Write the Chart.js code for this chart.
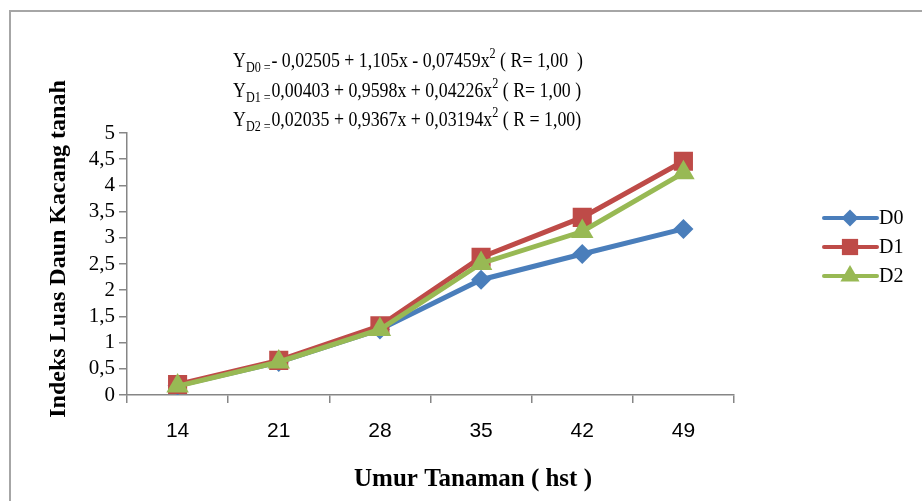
<!DOCTYPE html>
<html>
<head>
<meta charset="utf-8">
<script src="https://cdn.jsdelivr.net/npm/chart.js@4.4.1/dist/chart.umd.min.js"></script>
<style>
  body { margin: 0; background: #fff; }
  canvas { display: block; }
</style>
</head>
<body>
<canvas id="grafikILD" width="922" height="501"></canvas>
<script>
// Data indeks luas daun per umur tanaman
const umur = ["14", "21", "28", "35", "42", "49"];
const dataD0 = [0.18, 0.63, 1.25, 2.20, 2.69, 3.17];
const dataD1 = [0.20, 0.66, 1.32, 2.63, 3.39, 4.46];
const dataD2 = [0.17, 0.63, 1.25, 2.51, 3.12, 4.24];
const namaSeri = ["D0", "D1", "D2"];
const warnaSeri = ['#4A7EBB', '#BE4B48', '#98B954'];
const bentukTitik = ['rectRot', 'rect', 'triangle'];
const ukuranTitik = [10, 13.5, 13];

// Persamaan regresi (teks di atas grafik)
const persamaan = [
    [["Y", ""], ["D0 =", "sub"], ["- 0,02505 + 1,105x - 0,07459x", ""], ["2", "sup"], [" ( R= 1,00  )", ""]],
    [["Y", ""], ["D1 =", "sub"], ["0,00403 + 0,9598x + 0,04226x", ""], ["2", "sup"], [" ( R= 1,00 )", ""]],
    [["Y", ""], ["D2 =", "sub"], ["0,02035 + 0,9367x + 0,03194x", ""], ["2", "sup"], [" ( R = 1,00)", ""]]
];

const serif = '"Liberation Serif", "Times New Roman", serif';
const abu = '#868686';

function fontBagian(jenis) {
    return (jenis === "" ? "22px " : "15px ") + serif;
}

function lebarBagian(ctx, p) {
    ctx.font = fontBagian(p[1]);
    return ctx.measureText(p[0]).width + (p[1] === "sub" ? 1 : 0);
}

function lebarBaris(ctx, baris) {
    let w = 0;
    baris.forEach(function(p) { w += lebarBagian(ctx, p); });
    return w;
}

// Plugin untuk judul sumbu, legenda, persamaan dan bingkai
const hiasan = {
    id: 'hiasan',
    afterDraw: function(chart) {
        const ctx = chart.ctx;
        ctx.save();

        // bingkai
        ctx.strokeStyle = '#a6a6a6';
        ctx.lineWidth = 2;
        ctx.beginPath();
        ctx.moveTo(10, 501);
        ctx.lineTo(10, 11);
        ctx.lineTo(922, 11);
        ctx.stroke();

        // persamaan
        const skala = 350 / lebarBaris(ctx, persamaan[0]);
        const barisY = [67, 97, 126];
        persamaan.forEach(function(baris, i) {
            ctx.save();
            ctx.translate(233, barisY[i]);
            ctx.scale(skala, 1);
            let x = 0;
            ctx.fillStyle = '#000';
            ctx.textBaseline = 'alphabetic';
            ctx.textAlign = 'left';
            baris.forEach(function(p) {
                ctx.font = fontBagian(p[1]);
                let dy = 0;
                if (p[1] === "sub") dy = 5;
                if (p[1] === "sup") dy = -9;
                ctx.fillText(p[0], x, dy);
                x += lebarBagian(ctx, p);
            });
            ctx.restore();
        });

        // judul sumbu Y
        ctx.fillStyle = '#000';
        ctx.font = 'bold 24px ' + serif;
        ctx.textAlign = 'center';
        ctx.textBaseline = 'alphabetic';
        ctx.save();
        ctx.translate(65, 249);
        ctx.rotate(-Math.PI / 2);
        ctx.fillText("Indeks Luas Daun Kacang tanah", 0, 0);
        ctx.restore();

        // judul sumbu X
        ctx.font = 'bold 25px ' + serif;
        ctx.fillText("Umur Tanaman ( hst )", 473, 486);

        // legenda
        const legendY = [218, 247, 276];
        chart.data.datasets.forEach(function(ds, i) {
            const y = legendY[i];
            ctx.strokeStyle = ds.borderColor;
            ctx.lineWidth = 4;
            ctx.lineCap = 'round';
            ctx.beginPath();
            ctx.moveTo(824, y);
            ctx.lineTo(877, y);
            ctx.stroke();
            ctx.fillStyle = ds.borderColor;
            Chart.helpers.drawPoint(ctx, {
                pointStyle: ds.pointStyle,
                radius: ds.pointRadius * 0.85,
                rotation: 0,
                borderWidth: 0
            }, 850, y);
            ctx.fillStyle = '#000';
            ctx.font = '20px ' + serif;
            ctx.textAlign = 'left';
            ctx.textBaseline = 'middle';
            ctx.fillText(namaSeri[i], 879, y + 1);
        });

        ctx.restore();
    }
};

const semuaData = [dataD0, dataD1, dataD2];
const datasets = semuaData.map(function(d, i) {
    return {
        label: namaSeri[i],
        data: d,
        order: 2 - i,  // D2 paling atas seperti aslinya
        borderColor: warnaSeri[i],
        backgroundColor: warnaSeri[i],
        borderWidth: 5,
        pointStyle: bentukTitik[i],
        pointRadius: ukuranTitik[i],
        pointBorderWidth: 0,
        pointHoverRadius: ukuranTitik[i],
        tension: 0
    };
});

const ctx = document.getElementById("grafikILD").getContext("2d");
const grafik = new Chart(ctx, {
    type: 'line',
    data: {
        labels: umur,
        datasets: datasets
    },
    options: {
        responsive: false,
        animation: false,
        layout: {
            padding: { top: 133, right: 188, left: 0, bottom: 0 }
        },
        plugins: {
            legend: { display: false },
            tooltip: { enabled: false }
        },
        scales: {
            x: {
                offset: true,
                afterFit: function(scale) { scale.height = 106; },
                grid: {
                    offset: true,
                    drawOnChartArea: false,
                    tickLength: 8,
                    color: abu,
                    lineWidth: 1.5
                },
                border: { color: abu, width: 1.5 },
                ticks: {
                    color: '#000',
                    padding: 16,
                    font: { family: '"Liberation Sans", Arial, sans-serif', size: 21 }
                }
            },
            y: {
                min: 0,
                max: 5,
                afterFit: function(scale) { scale.width = 127; },
                grid: {
                    drawOnChartArea: false,
                    tickLength: 8,
                    color: abu,
                    lineWidth: 1.5
                },
                border: { color: abu, width: 1.5 },
                ticks: {
                    stepSize: 0.5,
                    autoSkip: false,
                    color: '#000',
                    padding: 4,
                    font: { family: serif, size: 21 },
                    callback: function(v) { return String(v).replace('.', ','); }
                }
            }
        }
    },
    plugins: [hiasan]
});
</script>
</body>
</html>
